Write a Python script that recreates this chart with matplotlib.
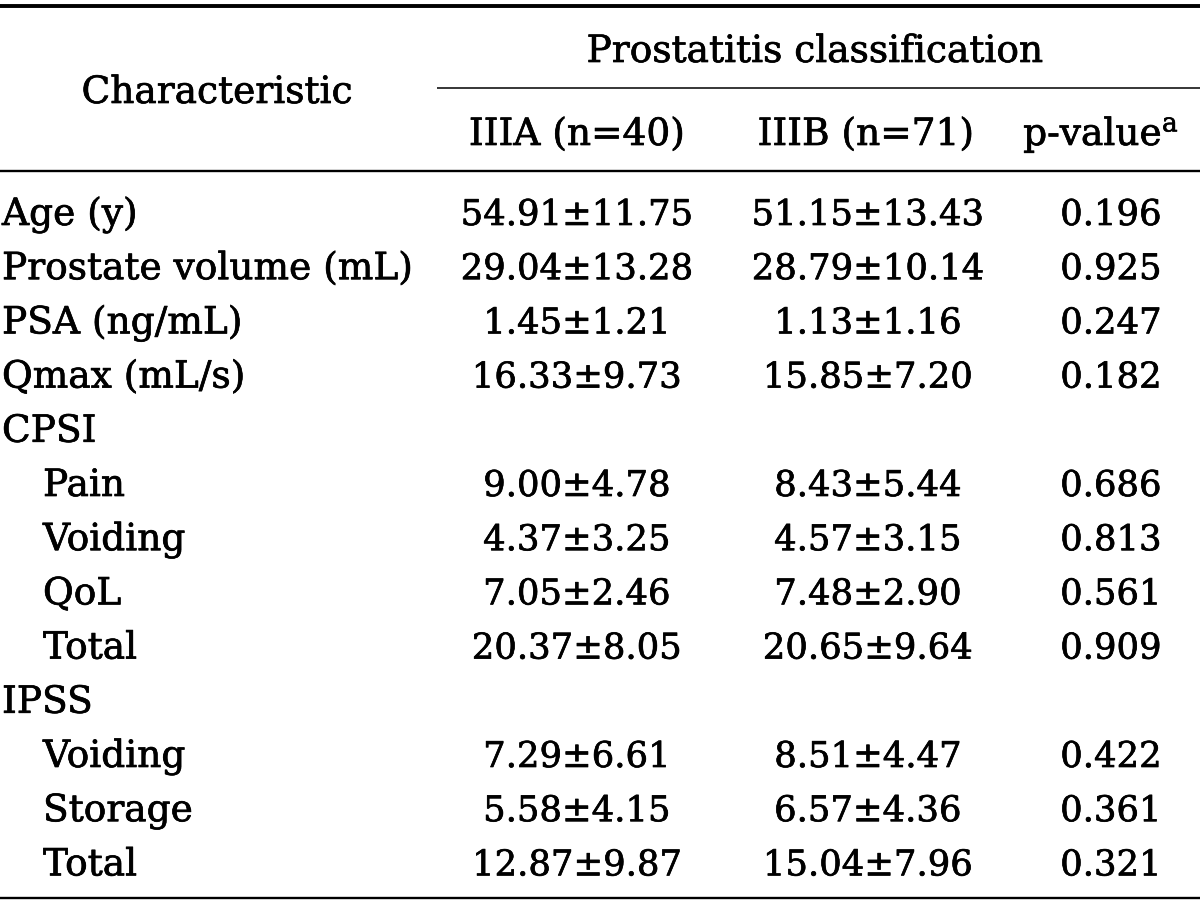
import matplotlib.pyplot as plt
import matplotlib.patheffects as pe

plt.rcParams['font.family'] = ['DejaVu Serif']
plt.rcParams['mathtext.fontset'] = 'dejavuserif'

# Table content
labels = ['Age (y)', 'Prostate volume (mL)', 'PSA (ng/mL)', 'Qmax (mL/s)', 'CPSI',
          'Pain', 'Voiding', 'QoL', 'Total', 'IPSS', 'Voiding', 'Storage', 'Total']
indented = [False, False, False, False, False, True, True, True, True, False, True, True, True]
iiia = ['54.91±11.75', '29.04±13.28', '1.45±1.21', '16.33±9.73', '',
        '9.00±4.78', '4.37±3.25', '7.05±2.46', '20.37±8.05', '',
        '7.29±6.61', '5.58±4.15', '12.87±9.87']
iiib = ['51.15±13.43', '28.79±10.14', '1.13±1.16', '15.85±7.20', '',
        '8.43±5.44', '4.57±3.15', '7.48±2.90', '20.65±9.64', '',
        '8.51±4.47', '6.57±4.36', '15.04±7.96']
pvals = ['0.196', '0.925', '0.247', '0.182', '',
         '0.686', '0.813', '0.561', '0.909', '',
         '0.422', '0.361', '0.321']
col_headers = ['IIIA (n=40)', 'IIIB (n=71)', 'p-value$^{\\rm a}$']

W, H = 1200, 907
fig = plt.figure(figsize=(W / 100, H / 100), dpi=100)
ax = fig.add_axes([0, 0, 1, 1])
ax.set_xlim(0, W)
ax.set_ylim(H, 0)
ax.axis('off')

fs_txt = 27
fs_num = 25.5
col_x = [577, 868, 1111]
# slight thickening to mimic the heavier print face
bold = [pe.withStroke(linewidth=0.5, foreground='black')]

# Rules
ax.plot([0, W], [6, 6], color='black', lw=2.8, solid_capstyle='butt')
ax.plot([437, W], [88, 88], color='black', lw=1.1, solid_capstyle='butt')
ax.plot([0, W], [171, 171], color='black', lw=1.7, solid_capstyle='butt')
ax.plot([0, W], [898, 898], color='black', lw=1.7, solid_capstyle='butt')

# Header
ax.text(217, 103, 'Characteristic', fontsize=fs_txt, ha='center', va='baseline', path_effects=bold)
ax.text(815, 62, 'Prostatitis classification', fontsize=fs_txt, ha='center', va='baseline',
        path_effects=bold)
for x, h in zip([577, 866, 1101], col_headers):
    ax.text(x, 145, h, fontsize=fs_txt, ha='center', va='baseline', path_effects=bold)

# Body
base0, step = 225, 54.2
for i, lab in enumerate(labels):
    y = base0 + i * step
    ax.text(43 if indented[i] else 2, y, lab, fontsize=fs_txt, ha='left', va='baseline',
            path_effects=bold)
    for x, v in zip(col_x, [iiia[i], iiib[i], pvals[i]]):
        if v:
            ax.text(x, y, v, fontsize=fs_num, ha='center', va='baseline', path_effects=bold)

fig.savefig('out.png', dpi=100)
